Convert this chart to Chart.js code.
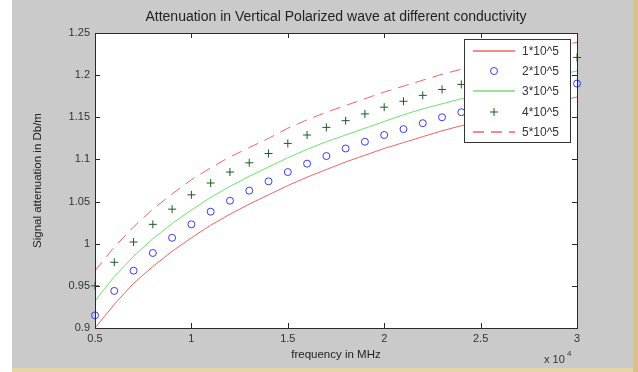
<!DOCTYPE html>
<html>
<head>
<meta charset="utf-8">
<script src="https://cdn.jsdelivr.net/npm/chart.js@4.4.1/dist/chart.umd.min.js"></script>
<style>
  html, body { margin: 0; padding: 0; background: #fff; }
  canvas { display: block; }
</style>
</head>
<body>
<canvas id="attChart" width="638" height="372"></canvas>
<script>
// frequency axis (x 10^4 MHz)
const freq = [0.5, 0.6, 0.7, 0.8, 0.9, 1.0, 1.1, 1.2, 1.3, 1.4, 1.5, 1.6, 1.7,
              1.8, 1.9, 2.0, 2.1, 2.2, 2.3, 2.4, 2.5, 2.6, 2.7, 2.8, 2.9, 3.0];

// attenuation, one list per conductivity
const cond1 = [0.900, 0.928, 0.953, 0.973, 0.991, 1.007, 1.022, 1.035, 1.047, 1.058, 1.069, 1.079, 1.088,
               1.097, 1.105, 1.113, 1.120, 1.127, 1.134, 1.140, 1.146, 1.152, 1.158, 1.163, 1.169, 1.174];
const cond2 = [0.915, 0.944, 0.968, 0.989, 1.007, 1.023, 1.038, 1.051, 1.063, 1.074, 1.085, 1.095, 1.104,
               1.113, 1.121, 1.129, 1.136, 1.143, 1.150, 1.156, 1.162, 1.168, 1.174, 1.179, 1.185, 1.190];
const cond3 = [0.932, 0.961, 0.985, 1.006, 1.024, 1.040, 1.055, 1.068, 1.080, 1.091, 1.102, 1.112, 1.121,
               1.129, 1.137, 1.145, 1.153, 1.160, 1.166, 1.172, 1.178, 1.184, 1.190, 1.195, 1.200, 1.205];
const cond4 = [0.950, 0.978, 1.002, 1.023, 1.041, 1.058, 1.072, 1.085, 1.096, 1.107, 1.119, 1.129, 1.138,
               1.146, 1.154, 1.162, 1.169, 1.176, 1.183, 1.189, 1.195, 1.200, 1.206, 1.211, 1.216, 1.221];
const cond5 = [0.968, 0.996, 1.020, 1.041, 1.059, 1.076, 1.090, 1.103, 1.114, 1.125, 1.137, 1.147, 1.156,
               1.164, 1.172, 1.180, 1.187, 1.194, 1.201, 1.207, 1.213, 1.218, 1.224, 1.229, 1.234, 1.239];

const seriesNames = ['1*10^5', '2*10^5', '3*10^5', '4*10^5', '5*10^5'];
const xTicks = [0.5, 1, 1.5, 2, 2.5, 3];
const xTickLabels = ['0.5', '1', '1.5', '2', '2.5', '3'];
const yTicks = [0.9, 0.95, 1, 1.05, 1.1, 1.15, 1.2, 1.25];
const yTickLabels = ['0.9', '0.95', '1', '1.05', '1.1', '1.15', '1.2', '1.25'];

// matlab-ish styles: r-, bo, g-, +, r--
const colors = ['#f26464', '#3a3aff', '#6fe06f', '#1f5a1f', '#f26464'];
const markers = [null, 'circle', null, 'cross', null];
const dashes = [[], [], [], [], [11, 7]];

const toPoints = (vals) => freq.map((f, i) => ({ x: f, y: vals[i] }));
const FONT = 'Arial, "Liberation Sans", Helvetica, sans-serif';

// grey matlab figure + white axes
const figureBg = {
    id: 'figureBg',
    beforeDraw(chart) {
        const { ctx, chartArea: a } = chart;
        ctx.save();
        ctx.fillStyle = '#fff';
        ctx.fillRect(0, 0, chart.width, chart.height);
        ctx.fillStyle = '#cacaca';
        ctx.fillRect(12, 0, 621, 368);
        ctx.fillStyle = '#dcc08a';
        ctx.fillRect(633, 0, 5, 372);
        ctx.fillStyle = '#e4d6a8';
        ctx.fillRect(12, 368, 621, 4);
        ctx.fillStyle = '#fff';
        ctx.fillRect(a.left, a.top, a.right - a.left, a.bottom - a.top);
        ctx.restore();
    }
};

// box around axes with inward ticks, exponent note, legend box
const axesBox = {
    id: 'axesBox',
    afterDatasetsDraw(chart) {
        const { ctx, chartArea: a, scales: { x, y } } = chart;
        ctx.save();
        ctx.strokeStyle = '#2a2a2a';
        ctx.lineWidth = 1;
        ctx.strokeRect(Math.round(a.left) + 0.5, Math.round(a.top) + 0.5,
                       Math.round(a.right - a.left), Math.round(a.bottom - a.top));
        ctx.beginPath();
        x.ticks.forEach(t => {
            const px = Math.round(x.getPixelForValue(t.value)) + 0.5;
            ctx.moveTo(px, a.bottom); ctx.lineTo(px, a.bottom - 5);
            ctx.moveTo(px, a.top); ctx.lineTo(px, a.top + 5);
        });
        y.ticks.forEach(t => {
            const py = Math.round(y.getPixelForValue(t.value)) + 0.5;
            ctx.moveTo(a.left, py); ctx.lineTo(a.left + 5, py);
            ctx.moveTo(a.right, py); ctx.lineTo(a.right - 5, py);
        });
        ctx.stroke();

        ctx.fillStyle = '#333';
        ctx.textBaseline = 'alphabetic';
        ctx.font = '11px ' + FONT;
        ctx.fillText('x 10', a.right - 33, a.bottom + 35);
        ctx.font = '8px ' + FONT;
        ctx.fillText('4', a.right - 10, a.bottom + 28);

        // legend
        const bx = Math.round(a.right) - 113, by = Math.round(a.top) + 6, bw = 106, bh = 103;
        ctx.fillStyle = '#fff';
        ctx.fillRect(bx, by, bw, bh);
        ctx.strokeStyle = '#333';
        ctx.strokeRect(bx + 0.5, by + 0.5, bw, bh);
        ctx.font = '12px ' + FONT;
        ctx.textBaseline = 'middle';
        seriesNames.forEach((name, i) => {
            const ly = Math.round(by + 12 + i * 20.2);
            const x0 = bx + 9, x1 = bx + 51, xm = (x0 + x1) / 2;
            if (!markers[i]) {
                ctx.save();
                ctx.strokeStyle = colors[i];
                ctx.lineWidth = 1.4;
                ctx.setLineDash(dashes[i]);
                ctx.beginPath();
                ctx.moveTo(x0, ly);
                ctx.lineTo(x1, ly);
                ctx.stroke();
                ctx.restore();
            } else {
                ctx.save();
                ctx.strokeStyle = colors[i];
                ctx.fillStyle = 'rgba(0,0,0,0)';
                ctx.lineWidth = 1;
                Chart.helpers.drawPoint(ctx, {
                    pointStyle: markers[i], radius: markers[i] === 'circle' ? 3.5 : 4,
                    borderWidth: 1, rotation: 0
                }, xm, ly);
                ctx.restore();
            }
            ctx.fillStyle = '#333';
            ctx.fillText(name, bx + 58, ly + 1);
        });
        ctx.restore();
    }
};

const lineSet = (i, vals) => ({
    label: seriesNames[i], data: toPoints(vals), borderColor: colors[i], borderWidth: 1,
    borderDash: dashes[i], pointRadius: 0
});
const markerSet = (i, vals, r) => ({
    label: seriesNames[i], data: toPoints(vals), borderColor: colors[i], backgroundColor: 'rgba(0,0,0,0)',
    showLine: false, pointStyle: markers[i], pointRadius: r, pointBorderWidth: 1
});

new Chart(document.getElementById('attChart'), {
    type: 'line',
    data: {
        datasets: [
            lineSet(0, cond1),
            markerSet(1, cond2, 3.5),
            lineSet(2, cond3),
            markerSet(3, cond4, 4),
            lineSet(4, cond5)
        ]
    },
    options: {
        responsive: false,
        animation: false,
        events: [],
        clip: false,
        layout: { padding: { left: 0, top: 0, right: 61, bottom: 0 } },
        plugins: {
            legend: { display: false },
            tooltip: { enabled: false },
            title: {
                display: true,
                fullSize: false,
                text: 'Attenuation in Vertical Polarized wave at different conductivity',
                color: '#222',
                font: { family: FONT, size: 14, weight: 'normal' },
                padding: { top: 9, bottom: 7.2 }
            }
        },
        scales: {
            x: {
                type: 'linear',
                min: 0.5, max: 3,
                afterBuildTicks: (s) => { s.ticks = xTicks.map(v => ({ value: v })); },
                afterFit: (s) => { s.height = 44; },
                grid: { display: false, drawTicks: false },
                border: { display: false },
                ticks: {
                    color: '#333', padding: 4, font: { family: FONT, size: 11 },
                    callback: (v, i) => xTickLabels[i]
                },
                title: {
                    display: true, text: 'frequency in MHz', color: '#222',
                    font: { family: FONT, size: 11.5 }, padding: { top: 0, bottom: 10 }
                }
            },
            y: {
                type: 'linear',
                min: 0.9, max: 1.25,
                afterBuildTicks: (s) => { s.ticks = yTicks.map(v => ({ value: v })); },
                afterFit: (s) => { s.width = 95; },
                grid: { display: false, drawTicks: false },
                border: { display: false },
                ticks: {
                    color: '#333', padding: 5, font: { family: FONT, size: 11 },
                    callback: (v, i) => yTickLabels[i]
                },
                title: {
                    display: true, text: 'Signal attenuation in Db/m', color: '#222',
                    font: { family: FONT, size: 11.5 }, padding: { top: 31, bottom: 0 }
                }
            }
        }
    },
    plugins: [figureBg, axesBox]
});
</script>
</body>
</html>
